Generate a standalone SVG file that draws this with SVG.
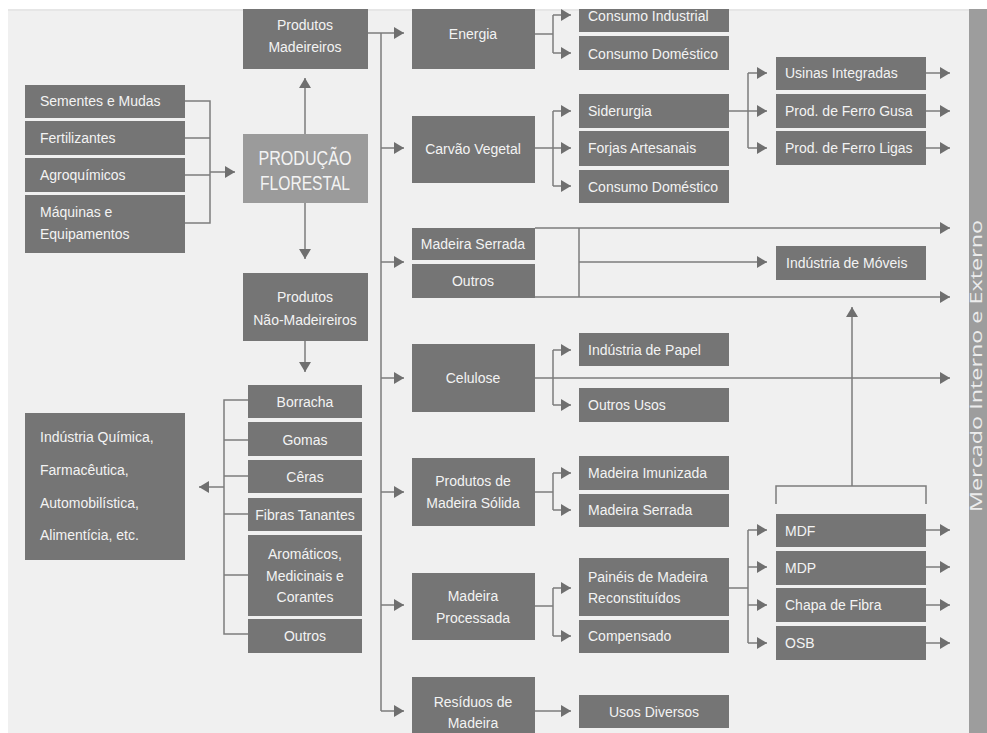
<svg xmlns="http://www.w3.org/2000/svg" width="987" height="733" viewBox="0 0 987 733">
<style>
.box{fill:#757575}
.main{fill:#9b9b9b}
.t{font-family:"Liberation Sans",Arial,sans-serif;font-size:14px;fill:#f3f3f3;dominant-baseline:central}
.c{text-anchor:middle}
.ln{stroke:#7c7c7c;stroke-width:1.5;fill:none}
.ar{marker-end:url(#ah)}
</style>
<defs>
<marker id="ah" markerUnits="userSpaceOnUse" markerWidth="10" markerHeight="12" refX="10" refY="6" orient="auto" overflow="visible">
<path d="M0,0 L10,6 L0,12 z" fill="#6f6f6f"/>
</marker>
</defs>
<rect x="0" y="0" width="987" height="733" fill="#ffffff"/>
<rect x="8" y="9" width="961" height="724" fill="#f0f0f0"/>
<rect x="8" y="9" width="961" height="2" fill="#e6e6e6"/>

<g id="mercado">
<rect x="969" y="9" width="18" height="724" fill="#9d9d9d"/>
<text transform="translate(982,366) rotate(-90)" x="0" y="0" text-anchor="middle" font-family="'Open Sans','Liberation Sans',sans-serif" font-size="17" fill="#ececec" textLength="292" lengthAdjust="spacingAndGlyphs">Mercado Interno e Externo</text>
</g>

<g id="connectors">
<path class="ln ar" d="M368,33 H404"/>
<path class="ln" d="M381,33 V711"/>
<path class="ln ar" d="M381,148 H404"/>
<path class="ln ar" d="M381,262 H404"/>
<path class="ln ar" d="M381,378 H404"/>
<path class="ln ar" d="M381,492 H404"/>
<path class="ln ar" d="M381,605 H404"/>
<path class="ln ar" d="M381,711 H404"/>

<path class="ln" d="M535,34 H553 M553,15 V53"/>
<path class="ln ar" d="M553,15 H571"/>
<path class="ln ar" d="M553,53 H571"/>

<path class="ln ar" d="M535,148 H571"/>
<path class="ln" d="M553,111 V186"/>
<path class="ln ar" d="M553,111 H571"/>
<path class="ln ar" d="M553,186 H571"/>

<path class="ln ar" d="M729,111 H767"/>
<path class="ln" d="M748,73 V148"/>
<path class="ln ar" d="M748,73 H767"/>
<path class="ln ar" d="M748,148 H767"/>
<path class="ln ar" d="M926,73 H950"/>
<path class="ln ar" d="M926,111 H950"/>
<path class="ln ar" d="M926,148 H950"/>

<path class="ln ar" d="M535,228 H950"/>
<path class="ln" d="M579,228 V297"/>
<path class="ln ar" d="M579,262 H767"/>
<path class="ln ar" d="M535,297 H950"/>

<path class="ln ar" d="M535,378 H950"/>
<path class="ln" d="M553,350 V405"/>
<path class="ln ar" d="M553,350 H571"/>
<path class="ln ar" d="M553,405 H571"/>

<path class="ln ar" d="M852,486 V307"/>
<path class="ln" d="M776,504 V486 H926 V504"/>

<path class="ln" d="M535,492 H553 M553,473 V510"/>
<path class="ln ar" d="M553,473 H571"/>
<path class="ln ar" d="M553,510 H571"/>

<path class="ln" d="M535,606 H553 M553,588 V636"/>
<path class="ln ar" d="M553,588 H571"/>
<path class="ln ar" d="M553,636 H571"/>

<path class="ln" d="M729,588 H748 M748,530 V643"/>
<path class="ln ar" d="M748,530 H767"/>
<path class="ln ar" d="M748,567 H767"/>
<path class="ln ar" d="M748,605 H767"/>
<path class="ln ar" d="M748,643 H767"/>
<path class="ln ar" d="M926,530 H950"/>
<path class="ln ar" d="M926,567 H950"/>
<path class="ln ar" d="M926,605 H950"/>
<path class="ln ar" d="M926,643 H950"/>

<path class="ln ar" d="M535,711 H571"/>

<path class="ln" d="M185,101 H210 V223 H185 M185,138 H210 M185,175 H210"/>
<path class="ln ar" d="M210,172 H235"/>
<path class="ln ar" d="M305,134 V78"/>
<path class="ln ar" d="M305,203 V259"/>
<path class="ln ar" d="M305,341 V372"/>

<path class="ln" d="M248,400 H224 V634 H248 M224,440 H248 M224,476 H248 M224,514 H248 M224,575 H248"/>
<path class="ln ar" d="M224,487 H199"/>
</g>

<g id="producao">
<rect class="main" x="243" y="134" width="125" height="69"/>
<text class="t c" x="305" y="158" textLength="93" lengthAdjust="spacingAndGlyphs" style="font-size:20px">PRODUÇÃO</text>
<text class="t c" x="305" y="183" textLength="90" lengthAdjust="spacingAndGlyphs" style="font-size:20px">FLORESTAL</text>
</g>

<g id="prod-madeireiros"><rect class="box" x="243" y="9" width="125" height="60"/>
<text class="t c" x="305" y="25">Produtos</text><text class="t c" x="305" y="47">Madeireiros</text></g>
<g id="prod-nao-madeireiros"><rect class="box" x="243" y="273" width="125" height="68"/>
<text class="t c" x="305" y="297">Produtos</text><text class="t c" x="305" y="320">Não-Madeireiros</text></g>

<g id="sementes"><rect class="box" x="25" y="85" width="160" height="33"/><text class="t" x="40" y="101">Sementes e Mudas</text></g>
<g id="fertilizantes"><rect class="box" x="25" y="121" width="160" height="34"/><text class="t" x="40" y="138">Fertilizantes</text></g>
<g id="agroquimicos"><rect class="box" x="25" y="158" width="160" height="34"/><text class="t" x="40" y="175">Agroquímicos</text></g>
<g id="maquinas"><rect class="box" x="25" y="195" width="160" height="58"/><text class="t" x="40" y="212">Máquinas e</text><text class="t" x="40" y="234">Equipamentos</text></g>

<g id="industria-quimica"><rect class="box" x="25" y="413" width="160" height="147"/>
<text class="t" x="40" y="437">Indústria Química,</text>
<text class="t" x="40" y="470">Farmacêutica,</text>
<text class="t" x="40" y="503">Automobilística,</text>
<text class="t" x="40" y="535">Alimentícia, etc.</text></g>

<g id="borracha"><rect class="box" x="248" y="385" width="114" height="33"/><text class="t c" x="305" y="402">Borracha</text></g>
<g id="gomas"><rect class="box" x="248" y="422" width="114" height="34"/><text class="t c" x="305" y="440">Gomas</text></g>
<g id="ceras"><rect class="box" x="248" y="460" width="114" height="33"/><text class="t c" x="305" y="477">Cêras</text></g>
<g id="fibras"><rect class="box" x="248" y="498" width="114" height="33"/><text class="t c" x="305" y="515">Fibras Tanantes</text></g>
<g id="aromaticos"><rect class="box" x="248" y="535" width="114" height="81"/><text class="t c" x="305" y="554">Aromáticos,</text><text class="t c" x="305" y="576">Medicinais e</text><text class="t c" x="305" y="597">Corantes</text></g>
<g id="outros-nm"><rect class="box" x="248" y="619" width="114" height="34"/><text class="t c" x="305" y="636">Outros</text></g>

<g id="energia"><rect class="box" x="412" y="9" width="123" height="60"/><text class="t c" x="473" y="34">Energia</text></g>
<g id="consumo-industrial"><rect class="box" x="579" y="9" width="150" height="23"/><text class="t" x="588" y="16">Consumo Industrial</text></g>
<g id="consumo-domestico-1"><rect class="box" x="579" y="36" width="150" height="34"/><text class="t" x="588" y="54">Consumo Doméstico</text></g>

<g id="carvao"><rect class="box" x="412" y="116" width="123" height="67"/><text class="t c" x="473" y="149">Carvão Vegetal</text></g>
<g id="siderurgia"><rect class="box" x="579" y="94" width="150" height="34"/><text class="t" x="588" y="111">Siderurgia</text></g>
<g id="forjas"><rect class="box" x="579" y="131" width="150" height="35"/><text class="t" x="588" y="148">Forjas Artesanais</text></g>
<g id="consumo-domestico-2"><rect class="box" x="579" y="170" width="150" height="33"/><text class="t" x="588" y="187">Consumo Doméstico</text></g>

<g id="usinas"><rect class="box" x="776" y="57" width="150" height="33"/><text class="t" x="785" y="73">Usinas Integradas</text></g>
<g id="ferro-gusa"><rect class="box" x="776" y="94" width="150" height="34"/><text class="t" x="785" y="111">Prod. de Ferro Gusa</text></g>
<g id="ferro-ligas"><rect class="box" x="776" y="131" width="150" height="34"/><text class="t" x="785" y="148">Prod. de Ferro Ligas</text></g>

<g id="madeira-serrada"><rect class="box" x="412" y="228" width="123" height="32"/><text class="t c" x="473" y="244">Madeira Serrada</text></g>
<g id="outros-m"><rect class="box" x="412" y="264" width="123" height="34"/><text class="t c" x="473" y="281">Outros</text></g>
<g id="moveis"><rect class="box" x="776" y="246" width="150" height="34"/><text class="t" x="786" y="263">Indústria de Móveis</text></g>

<g id="celulose"><rect class="box" x="412" y="344" width="123" height="68"/><text class="t c" x="473" y="378">Celulose</text></g>
<g id="papel"><rect class="box" x="579" y="333" width="150" height="33"/><text class="t" x="588" y="350">Indústria de Papel</text></g>
<g id="outros-usos"><rect class="box" x="579" y="388" width="150" height="34"/><text class="t" x="588" y="405">Outros Usos</text></g>

<g id="solida"><rect class="box" x="412" y="458" width="123" height="68"/><text class="t c" x="473" y="481">Produtos de</text><text class="t c" x="473" y="503">Madeira Sólida</text></g>
<g id="imunizada"><rect class="box" x="579" y="456" width="150" height="34"/><text class="t" x="588" y="473">Madeira Imunizada</text></g>
<g id="serrada-2"><rect class="box" x="579" y="494" width="150" height="33"/><text class="t" x="588" y="510">Madeira Serrada</text></g>

<g id="processada"><rect class="box" x="412" y="573" width="123" height="67"/><text class="t c" x="473" y="596">Madeira</text><text class="t c" x="473" y="618">Processada</text></g>
<g id="paineis"><rect class="box" x="579" y="558" width="150" height="58"/><text class="t" x="588" y="577">Painéis de Madeira</text><text class="t" x="588" y="598">Reconstituídos</text></g>
<g id="compensado"><rect class="box" x="579" y="620" width="150" height="33"/><text class="t" x="588" y="636">Compensado</text></g>

<g id="mdf"><rect class="box" x="776" y="514" width="150" height="33"/><text class="t" x="785" y="531">MDF</text></g>
<g id="mdp"><rect class="box" x="776" y="551" width="150" height="34"/><text class="t" x="785" y="568">MDP</text></g>
<g id="chapa"><rect class="box" x="776" y="588" width="150" height="34"/><text class="t" x="785" y="605">Chapa de Fibra</text></g>
<g id="osb"><rect class="box" x="776" y="626" width="150" height="34"/><text class="t" x="785" y="643">OSB</text></g>

<g id="residuos"><rect class="box" x="412" y="677" width="123" height="56"/><text class="t c" x="473" y="702">Resíduos de</text><text class="t c" x="473" y="723">Madeira</text></g>
<g id="usos-diversos"><rect class="box" x="579" y="695" width="150" height="33"/><text class="t c" x="654" y="712">Usos Diversos</text></g>
</svg>
